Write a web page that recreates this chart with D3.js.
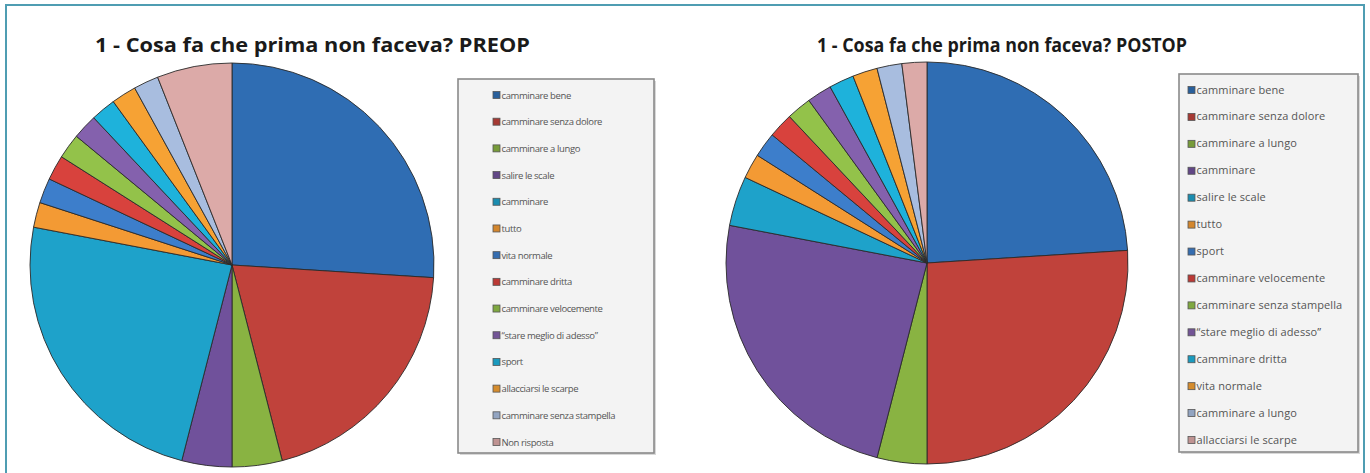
<!DOCTYPE html>
<html>
<head>
<meta charset="utf-8">
<script src="https://cdn.jsdelivr.net/npm/d3@7"></script>
<style>
  html, body { margin: 0; padding: 0; background: #ffffff; }
  svg { display: block; }
</style>
</head>
<body>
<svg id="chart" width="1370" height="473"></svg>
<script>
// Answers to "Cosa fa che prima non faceva?" before and after surgery (counts)
const preCategories = [
  "camminare bene", "camminare senza dolore", "camminare a lungo", "salire le scale",
  "camminare", "tutto", "vita normale", "camminare dritta", "camminare velocemente",
  "\u201cstare meglio di adesso\u201d", "sport", "allacciarsi le scarpe",
  "camminare senza stampella", "Non risposta"
];
const preValues = [13, 10, 2, 2, 12, 1, 1, 1, 1, 1, 1, 1, 1, 3];

const postCategories = [
  "camminare bene", "camminare senza dolore", "camminare a lungo", "camminare",
  "salire le scale", "tutto", "sport", "camminare velocemente",
  "camminare senza stampella", "\u201cstare meglio di adesso\u201d", "camminare dritta",
  "vita normale", "camminare a lungo", "allacciarsi le scarpe"
];
const postValues = [12, 13, 2, 12, 2, 1, 1, 1, 1, 1, 1, 1, 1, 1];

const preTitle = "1 - Cosa fa che prima non faceva? PREOP";
const postTitle = "1 - Cosa fa che prima non faceva? POSTOP";

// Office-style series palette
const palette = [
  "#2f6db3", "#c0423b", "#89b342", "#70519b", "#1ea2ca", "#f39a34",
  "#3d7ecb", "#d8423d", "#93c24a", "#8461ad", "#1eb2db", "#f6a234",
  "#a8bddf", "#dcaaa8"
];

const svg = d3.select("#chart");

// outer frame
svg.append("rect")
  .attr("x", 6).attr("y", 5)
  .attr("width", 1358).attr("height", 490)
  .attr("fill", "#ffffff")
  .attr("stroke", "#4f9db2")
  .attr("stroke-width", 2);

function drawPanel(cfg) {
  const g = svg.append("g");

  // title
  g.append("text")
    .attr("x", cfg.titleX).attr("y", cfg.titleY)
    .attr("font-family", "'Open Sans', 'DejaVu Sans', sans-serif")
    .attr("font-weight", "bold")
    .attr("font-size", 19.5)
    .attr("fill", "#1a1a1a")
    .attr("textLength", cfg.titleW)
    .attr("lengthAdjust", "spacingAndGlyphs")
    .text(cfg.title);

  // pie
  const color = d3.scaleOrdinal().domain(d3.range(cfg.values.length)).range(palette);
  const pie = d3.pie().sort(null).value(d => d.value);
  const arcs = pie(cfg.values.map((v, i) => ({ value: v, index: i, label: cfg.categories[i] })));
  const arc = d3.arc().innerRadius(0).outerRadius(cfg.r);

  g.append("g")
    .attr("transform", `translate(${cfg.cx},${cfg.cy})`)
    .selectAll("path")
    .data(arcs)
    .join("path")
    .attr("d", arc)
    .attr("fill", d => color(d.data.index))
    .attr("stroke", "#2a2a2a")
    .attr("stroke-width", 0.9)
    .attr("stroke-linejoin", "round");

  // legend box
  const lg = g.append("g");
  lg.append("rect")
    .attr("x", cfg.lx + 2).attr("y", cfg.ly + 2)
    .attr("width", cfg.lw).attr("height", cfg.lh)
    .attr("fill", "#d8d8d8");
  lg.append("rect")
    .attr("x", cfg.lx).attr("y", cfg.ly)
    .attr("width", cfg.lw).attr("height", cfg.lh)
    .attr("fill", "#f3f3f3")
    .attr("stroke", "#8a8a8a")
    .attr("stroke-width", 1.6);

  const y = d3.scalePoint()
    .domain(d3.range(cfg.categories.length))
    .range([cfg.firstY, cfg.lastY]);

  const items = lg.selectAll("g.item")
    .data(cfg.categories.map((c, i) => ({ label: c, index: i })))
    .join("g")
    .attr("class", "item")
    .attr("transform", d => `translate(${cfg.sx},${y(d.index)})`);

  items.append("rect")
    .attr("x", 0).attr("y", -3.5)
    .attr("width", 7).attr("height", 7)
    .attr("fill", d => d3.color(color(d.index)).darker(0.4))
    .attr("stroke", "#555")
    .attr("stroke-width", 0.8);

  items.append("text")
    .attr("x", 8.5).attr("y", 3.5)
    .attr("font-family", "'Open Sans', 'DejaVu Sans', sans-serif")
    .attr("font-size", cfg.fs)
    .attr("letter-spacing", cfg.ls)
    .attr("fill", "#555555")
    .text(d => d.label);
}

drawPanel({
  title: preTitle, titleX: 95, titleY: 52, titleW: 435,
  categories: preCategories, values: preValues,
  cx: 232, cy: 265, r: 202,
  lx: 458, ly: 79, lw: 196, lh: 374,
  sx: 493, firstY: 95, lastY: 442, fs: 9.5, ls: -0.4
});

drawPanel({
  title: postTitle, titleX: 817, titleY: 52, titleW: 370,
  categories: postCategories, values: postValues,
  cx: 927, cy: 263, r: 201,
  lx: 1179, ly: 74, lw: 179, lh: 378,
  sx: 1188, firstY: 90, lastY: 440, fs: 11, ls: 0.1
});
</script>
</body>
</html>
